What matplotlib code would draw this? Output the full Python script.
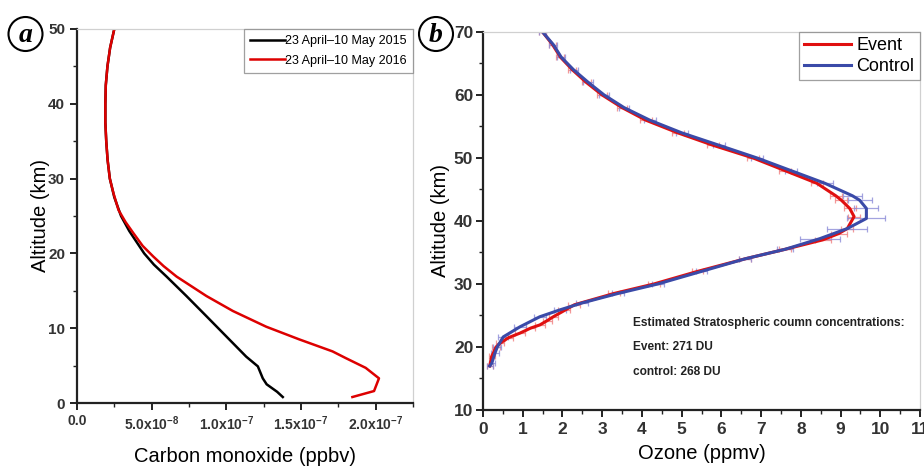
import matplotlib
matplotlib.use("Agg")
import matplotlib.pyplot as plt
from matplotlib.ticker import MultipleLocator
from matplotlib.patches import Ellipse

# ---------------- data: panel a (carbon monoxide) ----------------
co_alt_2015 = [0.8, 1.5, 2.5, 3.3, 4.9, 6.2, 8.9, 11.6, 14.3, 16.9, 18.5, 20.0, 21.5, 23.0, 25.0,
               27.5, 30.0, 32.5, 35.0, 37.5, 40.0, 42.5, 45.0, 47.5, 50.0]
co_2015 = [1.378e-7, 1.34e-7, 1.27e-7, 1.244e-7, 1.211e-7, 1.133e-7, 1.0e-7, 8.67e-8, 7.33e-8, 6.0e-8,
           5.15e-8, 4.5e-8, 4.0e-8, 3.5e-8, 2.95e-8, 2.5e-8, 2.2e-8, 2.05e-8, 1.96e-8, 1.9e-8,
           1.9e-8, 1.93e-8, 2.04e-8, 2.22e-8, 2.5e-8]
co_alt_2016 = [0.8, 1.6, 3.3, 4.7, 6.0, 6.9, 8.5, 10.2, 12.3, 14.3, 16.9, 18.3, 19.6, 21.0, 22.7,
               24.2, 25.8, 28.0, 30.0, 32.5, 35.0, 37.5, 40.0, 42.5, 45.0, 47.5, 50.0]
co_2016 = [1.844e-7, 1.989e-7, 2.022e-7, 1.933e-7, 1.80e-7, 1.711e-7, 1.489e-7, 1.267e-7, 1.044e-7,
           8.67e-8, 6.67e-8, 5.8e-8, 5.1e-8, 4.4e-8, 3.78e-8, 3.25e-8, 2.78e-8, 2.45e-8, 2.2e-8,
           2.05e-8, 1.96e-8, 1.9e-8, 1.9e-8, 1.93e-8, 2.04e-8, 2.22e-8, 2.5e-8]
co_xticks = [0.0, 5.0e-8, 1.0e-7, 1.5e-7, 2.0e-7]
co_xticklabels = ["0.0", "5.0x10$^{-8}$", "1.0x10$^{-7}$", "1.5x10$^{-7}$", "2.0x10$^{-7}$"]
co_labels = ["23 April\u201310 May 2015", "23 April\u201310 May 2016"]

# ---------------- data: panel b (ozone) ----------------
o3_alt_event = [17.0, 18.5, 20.0, 20.6, 21.5, 22.2, 23.0, 23.5, 24.2, 24.8, 25.8, 26.7, 28.5, 30.0,
                32.0, 34.0, 35.5, 37.0, 38.0, 38.8, 40.7, 42.0, 43.3, 44.0, 46.0, 48.0, 50.0, 52.0,
                54.0, 56.0, 58.0, 60.0, 62.0, 64.0, 66.0, 68.0, 70.0]
o3_event = [0.17, 0.22, 0.33, 0.43, 0.65, 0.93, 1.2, 1.43, 1.62, 1.77, 2.05, 2.3, 3.3, 4.3,
            5.4, 6.6, 7.6, 8.55, 8.95, 9.17, 9.34, 9.23, 9.02, 8.88, 8.4, 7.6, 6.8, 5.8,
            4.9, 4.1, 3.5, 3.0, 2.6, 2.25, 1.95, 1.75, 1.5]
o3_event_err = [0.08, 0.08, 0.1, 0.1, 0.1, 0.12, 0.12, 0.12, 0.12, 0.12, 0.15, 0.15, 0.15, 0.15,
                0.15, 0.15, 0.15, 0.2, 0.2, 0.15, 0.15, 0.15, 0.15, 0.15, 0.15, 0.15, 0.15, 0.15,
                0.15, 0.15, 0.12, 0.12, 0.12, 0.1, 0.1, 0.1, 0.08]
o3_alt_control = [17.0, 17.4, 19.0, 20.0, 21.6, 23.2, 24.8, 25.9, 27.0, 28.5, 30.0, 32.0, 34.0, 35.5,
                  37.2, 38.8, 40.4, 42.0, 43.3, 44.0, 46.0, 48.0, 50.0, 52.0, 54.0, 56.0, 58.0, 60.0,
                  62.0, 64.0, 66.0, 68.0, 70.0]
o3_control = [0.17, 0.22, 0.3, 0.36, 0.51, 0.93, 1.43, 1.94, 2.5, 3.4, 4.4, 5.5, 6.6, 7.6,
              8.48, 9.17, 9.65, 9.65, 9.48, 9.3, 8.6, 7.75, 6.9, 5.95, 5.0, 4.2, 3.55, 3.05,
              2.65, 2.28, 1.97, 1.77, 1.5]
o3_control_err = [0.08, 0.08, 0.1, 0.1, 0.12, 0.15, 0.15, 0.15, 0.15, 0.15, 0.15, 0.15, 0.15, 0.2,
                  0.5, 0.5, 0.48, 0.3, 0.3, 0.25, 0.2, 0.15, 0.15, 0.15, 0.15, 0.15, 0.12, 0.12,
                  0.12, 0.1, 0.1, 0.1, 0.08]
o3_labels = ["Event", "Control"]
annot_lines = ["Estimated Stratospheric coumn concentrations:", "Event: 271 DU", "control: 268 DU"]

# ---------------- styling ----------------
plt.rcParams['font.family'] = ['Liberation Sans', 'DejaVu Sans']
plt.rcParams['mathtext.default'] = 'regular'
narrow = ['Liberation Sans Narrow', 'Liberation Sans', 'DejaVu Sans']

fig = plt.figure(figsize=(9.24, 4.69), dpi=100)
axa = fig.add_axes([0.0833, 0.1407, 0.3637, 0.7975])
axb = fig.add_axes([0.5227, 0.1258, 0.4730, 0.8060])


def style(ax, size):
    for s in ['left', 'bottom']:
        ax.spines[s].set_color('#222222')
        ax.spines[s].set_linewidth(1.6)
    for s in ['top', 'right']:
        ax.spines[s].set_color('#d0d0d0')
        ax.spines[s].set_linewidth(0.9)
    ax.tick_params(which='both', direction='out', top=False, right=False, color='#222222')
    ax.tick_params(which='major', length=5, width=1.4, labelsize=size)
    ax.tick_params(which='minor', length=3, width=1.0)
    for lab in ax.get_xticklabels() + ax.get_yticklabels():
        lab.set_family(narrow)
        lab.set_fontweight('bold')
        lab.set_color('#333333')


# ---- panel a ----
axa.plot(co_2015, co_alt_2015, color='black', lw=1.8, label=co_labels[0])
axa.plot(co_2016, co_alt_2016, color='#dd0000', lw=1.8, label=co_labels[1])
axa.set_xlim(0, 2.25e-7)
axa.set_ylim(0, 50)
axa.set_xticks(co_xticks)
axa.set_xticklabels(co_xticklabels)
axa.xaxis.set_minor_locator(MultipleLocator(2.5e-8))
axa.yaxis.set_major_locator(MultipleLocator(10))
axa.yaxis.set_minor_locator(MultipleLocator(5))
style(axa, 11)
axa.tick_params(axis='x', which='major', labelsize=10, pad=3)
axa.set_xlabel("Carbon monoxide (ppbv)", fontsize=14.5, labelpad=10)
axa.set_ylabel("Altitude (km)", fontsize=14.5, labelpad=-1)
leg = axa.legend(loc='upper right', fontsize=9, frameon=True, fancybox=False, handlelength=2.8,
                 handletextpad=0.0, borderaxespad=0.0, borderpad=0.5, labelspacing=0.6)
leg.get_frame().set_edgecolor('#888888')
leg.get_frame().set_linewidth(0.9)

# ---- panel b ----
axb.errorbar(o3_event, o3_alt_event, xerr=o3_event_err, fmt='none', ecolor='#f08080', elinewidth=0.9,
             capsize=2.5, capthick=0.9, alpha=0.8)
axb.errorbar(o3_control, o3_alt_control, xerr=o3_control_err, fmt='none', ecolor='#8c8cd8',
             elinewidth=0.9, capsize=2.5, capthick=0.9, alpha=0.8)
axb.plot(o3_event, o3_alt_event, color='#e01010', lw=2.2, label=o3_labels[0])
axb.plot(o3_control, o3_alt_control, color='#3a4aa8', lw=2.2, label=o3_labels[1])
axb.set_xlim(0, 11)
axb.set_ylim(10, 70)
axb.xaxis.set_major_locator(MultipleLocator(1))
axb.xaxis.set_minor_locator(MultipleLocator(0.5))
axb.yaxis.set_major_locator(MultipleLocator(10))
axb.yaxis.set_minor_locator(MultipleLocator(5))
style(axb, 12.5)
axb.tick_params(axis='y', which='major', pad=2)
axb.set_xlabel("Ozone (ppmv)", fontsize=14.5, labelpad=5)
axb.set_ylabel("Altitude (km)", fontsize=14.5, labelpad=3)
legb = axb.legend(loc='upper right', fontsize=13, frameon=True, fancybox=False, handlelength=2.6,
                  handletextpad=0.3, borderaxespad=0.0, borderpad=0.3, labelspacing=0.2)
legb.get_frame().set_edgecolor('#888888')
legb.get_frame().set_linewidth(0.9)

for txt, yy in zip(annot_lines, [23.8, 20.0, 16.0]):
    axb.text(3.77, yy, txt, fontsize=8.6, fontweight='bold', family=narrow, color='#222222',
             va='center', ha='left')

# ---- panel letters ----
for cx, cy, letter in [(25.5, 34, "a"), (436, 34, "b")]:
    fx, fy = cx / 924, 1 - cy / 469
    fig.add_artist(Ellipse((fx, fy), 34 / 924, 34 / 469, transform=fig.transFigure,
                           fc='white', ec='black', lw=1.5))
    fig.text(fx, fy - 0.004, letter, fontsize=20, fontweight='bold', style='italic',
             family='Liberation Serif', ha='center', va='center')

fig.savefig("out.png", dpi=100)
